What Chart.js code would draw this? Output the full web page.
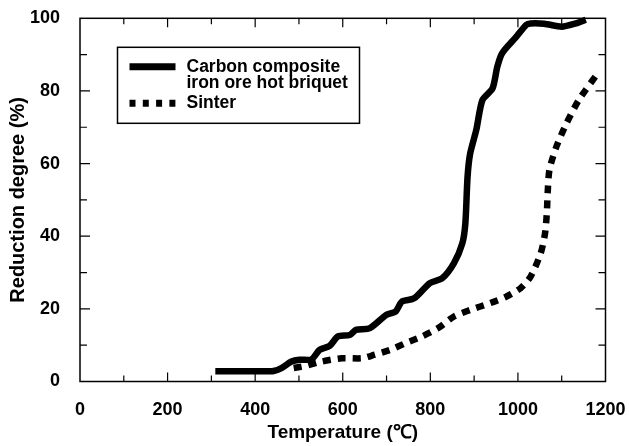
<!DOCTYPE html>
<html>
<head>
<meta charset="utf-8">
<script src="https://cdn.jsdelivr.net/npm/chart.js@4.4.0/dist/chart.umd.min.js"></script>
<style>
  html, body { margin: 0; padding: 0; background: #fff; }
  #wrap { width: 629px; height: 446px; }
</style>
</head>
<body>
<div id="wrap"><canvas id="chart"></canvas></div>
<script>
// Carbon composite iron ore hot briquet
const briquetTemp = [309, 360, 420, 442, 460, 483, 501, 529, 547, 570, 589, 616, 630, 662, 699, 721, 735, 763, 799, 827, 854, 873, 880, 885, 891, 905, 919, 942, 953, 964, 997, 1019, 1029, 1060, 1100, 1130, 1155];
const briquetReduction = [2.8, 2.8, 2.8, 2.9, 3.7, 5.5, 6.0, 6.1, 8.7, 9.8, 12.4, 12.8, 14.2, 14.7, 18.3, 19.3, 22.0, 22.9, 27.1, 28.4, 32.6, 38.0, 43.6, 56.4, 62.8, 69.3, 77.5, 80.7, 86.7, 90.4, 95.0, 98.2, 98.6, 98.5, 97.7, 98.5, 99.6];

// Sinter
const sinterTemp = [488, 515, 552, 598, 644, 671, 708, 744, 781, 818, 854, 891, 937, 974, 1006, 1029, 1052, 1062, 1066, 1068, 1072, 1088, 1111, 1139, 1180];
const sinterReduction = [3.7, 4.3, 5.5, 6.4, 6.4, 7.3, 8.7, 10.6, 12.4, 14.7, 17.9, 19.7, 21.6, 23.4, 25.7, 28.9, 35.3, 40.8, 46.3, 52.0, 58.3, 64.7, 71.1, 77.5, 84.5];

const xTicks = [0, 200, 400, 600, 800, 1000, 1200];
const yTicks = [0, 20, 40, 60, 80, 100];

function toPoints(xs, ys) {
  return xs.map(function(x, i) { return { x: x, y: ys[i] }; });
}

// keep the plot box where the layout padding puts it
function noOverhang(scale) {
  scale.paddingTop = 0;
  scale.paddingBottom = 0;
  scale.paddingLeft = 0;
  scale.paddingRight = 0;
}

// frame, inward ticks and the boxed legend
const framePlugin = {
  id: "frame",
  afterDatasetsDraw: function(chart) {
    const ctx = chart.ctx;
    const a = chart.chartArea;
    const xs = chart.scales.x;
    const ys = chart.scales.y;
    ctx.save();
    ctx.strokeStyle = "#000";
    ctx.lineWidth = 1.5;
    ctx.strokeRect(a.left, a.top, a.right - a.left, a.bottom - a.top);

    ctx.lineWidth = 1.2;
    ctx.beginPath();
    for (let v = 100; v < 1200; v += 100) {
      const px = xs.getPixelForValue(v);
      const len = v % 200 === 0 ? 9 : 6;
      ctx.moveTo(px, a.bottom); ctx.lineTo(px, a.bottom - len);
      ctx.moveTo(px, a.top); ctx.lineTo(px, a.top + len);
    }
    for (let v = 10; v < 100; v += 10) {
      const py = ys.getPixelForValue(v);
      const len = v % 20 === 0 ? 10 : 7;
      ctx.moveTo(a.left, py); ctx.lineTo(a.left + len, py);
      ctx.moveTo(a.right, py); ctx.lineTo(a.right - len, py);
    }
    ctx.stroke();

    // legend box
    const lx = a.left + 37.5;
    const ly = a.top + 29;
    ctx.lineWidth = 1.5;
    ctx.strokeRect(lx, ly, 242, 76);

    ctx.lineWidth = 7;
    ctx.lineCap = "butt";
    ctx.beginPath();
    ctx.moveTo(lx + 12, ly + 19.5);
    ctx.lineTo(lx + 58, ly + 19.5);
    ctx.stroke();

    ctx.setLineDash([6, 7.3]);
    ctx.beginPath();
    ctx.moveTo(lx + 12, ly + 56);
    ctx.lineTo(lx + 58, ly + 56);
    ctx.stroke();
    ctx.setLineDash([]);

    ctx.fillStyle = "#000";
    ctx.font = "bold 17.5px 'Liberation Sans', Arial, sans-serif";
    ctx.textBaseline = "middle";
    ctx.textAlign = "left";
    ctx.fillText("Carbon composite", lx + 69, ly + 19.5);
    ctx.fillText("iron ore hot briquet", lx + 69, ly + 35.5);
    ctx.fillText("Sinter", lx + 69, ly + 56);
    ctx.restore();
  }
};

const ctx = document.getElementById("chart").getContext("2d");
const chart = new Chart(ctx, {
  type: "line",
  data: {
    datasets: [{
      label: "Carbon composite iron ore hot briquet",
      data: toPoints(briquetTemp, briquetReduction),
      borderColor: "#000",
      borderWidth: 6.5,
      pointRadius: 0,
      tension: 0.25,
      fill: false,
      clip: false
    }, {
      label: "Sinter",
      data: toPoints(sinterTemp, sinterReduction),
      borderColor: "#000",
      borderWidth: 6.5,
      borderDash: [8, 7],
      borderCapStyle: "butt",
      pointRadius: 0,
      tension: 0.25,
      fill: false,
      clip: false
    }]
  },
  options: {
    responsive: true,
    maintainAspectRatio: false,
    animation: false,
    devicePixelRatio: 1,
    layout: { padding: { left: 0, right: 23.5, top: 18.3, bottom: 0 } },
    plugins: {
      legend: { display: false },
      tooltip: { enabled: false }
    },
    scales: {
      x: {
        type: "linear",
        min: 0,
        max: 1200,
        afterBuildTicks: function(scale) {
          scale.ticks = xTicks.map(function(v) { return { value: v }; });
        },
        afterFit: function(scale) { scale.height = 64.5; noOverhang(scale); },
        grid: { display: false },
        border: { display: false },
        ticks: {
          color: "#000",
          padding: 10,
          maxRotation: 0,
          callback: function(v) { return String(v); },
          font: { family: "'Liberation Sans', Arial, sans-serif", size: 18, weight: "bold" }
        },
        title: {
          display: true,
          text: "Temperature (℃)",
          color: "#000",
          padding: { top: 0, bottom: 2 },
          font: { family: "'Liberation Sans', Arial, sans-serif", size: 19, weight: "bold" }
        }
      },
      y: {
        min: 0,
        max: 100,
        afterBuildTicks: function(scale) {
          scale.ticks = yTicks.map(function(v) { return { value: v }; });
        },
        afterFit: function(scale) { scale.width = 80; noOverhang(scale); },
        grid: { display: false },
        border: { display: false },
        ticks: {
          color: "#000",
          padding: 12,
          callback: function(v) { return String(v); },
          font: { family: "'Liberation Sans', Arial, sans-serif", size: 18, weight: "bold" }
        },
        title: {
          display: true,
          text: "Reduction degree (%)",
          color: "#000",
          padding: { top: 6, bottom: 0 },
          font: { family: "'Liberation Sans', Arial, sans-serif", size: 20, weight: "bold" }
        }
      }
    }
  },
  plugins: [framePlugin]
});
</script>
</body>
</html>
